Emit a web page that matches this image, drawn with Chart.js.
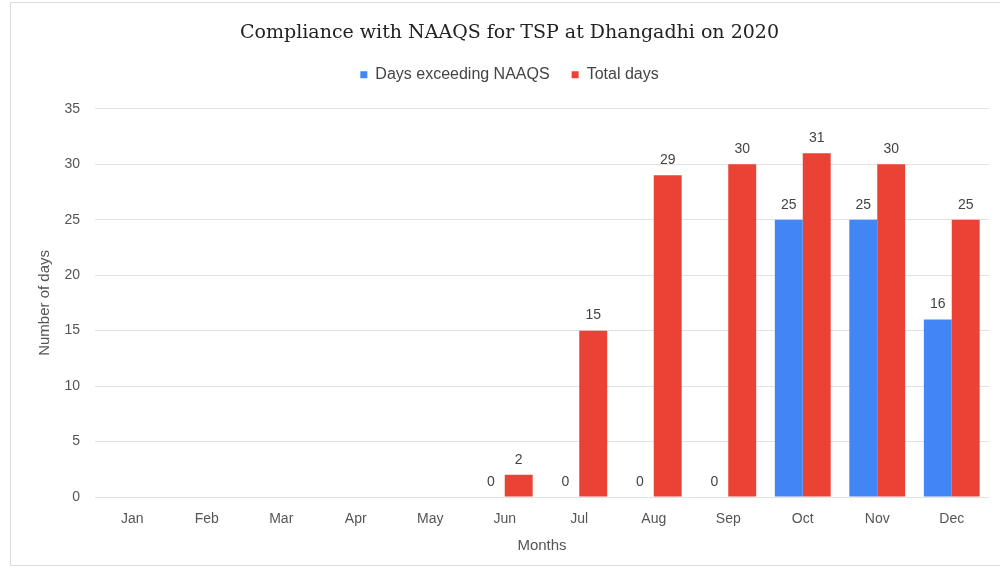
<!DOCTYPE html>
<html>
<head>
<meta charset="utf-8">
<script src="https://cdn.jsdelivr.net/npm/chart.js@4/dist/chart.umd.min.js"></script>
<style>
  body { margin: 0; background: #fff; }
  #wrap { position: relative; width: 1000px; height: 575px; }
  #frame { position: absolute; left: 10px; top: 2px; width: 990px; height: 564px; border: 1px solid #dcdcdc; border-right: none; box-sizing: border-box; pointer-events: none; }
</style>
</head>
<body>
<div id="wrap">
  <canvas id="chart" width="1000" height="575"></canvas>
  <div id="frame"></div>
</div>
<script>
const months = ['Jan', 'Feb', 'Mar', 'Apr', 'May', 'Jun', 'Jul', 'Aug', 'Sep', 'Oct', 'Nov', 'Dec'];
const daysExceeding = [null, null, null, null, null, 0, 0, 0, 0, 25, 25, 16];
const totalDays = [null, null, null, null, null, 2, 15, 29, 30, 31, 30, 25];
const yTicks = [0, 5, 10, 15, 20, 25, 30, 35];

const sans = '"Liberation Sans", Arial, sans-serif';

// draws the value above every bar (no datalabels plugin offline)
const barLabels = {
    id: 'barLabels',
    afterDatasetsDraw(chart) {
        const ctx = chart.ctx;
        ctx.save();
        ctx.font = '14px ' + sans;
        ctx.fillStyle = '#444';
        ctx.textAlign = 'center';
        ctx.textBaseline = 'bottom';
        chart.data.datasets.forEach((ds, i) => {
            chart.getDatasetMeta(i).data.forEach((bar, j) => {
                if (ds.data[j] === null) return;
                ctx.fillText(ds.data[j], bar.x, bar.y - 8);
            });
        });
        ctx.restore();
    }
};

// extra room under the legend
const legendGap = {
    id: 'legendGap',
    beforeInit(chart) {
        const fit = chart.legend.fit;
        chart.legend.fit = function () {
            fit.bind(chart.legend)();
            this.height += 16;
        };
    }
};

new Chart(document.getElementById('chart'), {
    type: 'bar',
    data: {
        labels: months,
        datasets: [
            { label: 'Days exceeding NAAQS', data: daysExceeding, backgroundColor: '#4285f4' },
            { label: 'Total days', data: totalDays, backgroundColor: '#ea4335' }
        ]
    },
    options: {
        responsive: false,
        animation: false,
        categoryPercentage: 0.75,
        barPercentage: 1,
        layout: { padding: { left: 30, right: 11, top: 0, bottom: 20 } },
        plugins: {
            title: {
                display: true,
                text: 'Compliance with NAAQS for TSP at Dhangadhi on 2020',
                color: '#222',
                font: { family: '"DejaVu Serif", serif', size: 19, weight: 'normal' },
                padding: { top: 22, bottom: 0 }
            },
            legend: {
                labels: {
                    usePointStyle: true,
                    pointStyle: 'rect',
                    boxWidth: 7,
                    boxHeight: 7,
                    color: '#444',
                    font: { family: sans, size: 16 },
                    padding: 22
                }
            },
            tooltip: { enabled: false }
        },
        scales: {
            x: {
                afterFit(scale) { scale.height = 58; },
                grid: { display: false, drawTicks: false },
                border: { display: false },
                ticks: { color: '#555', font: { family: sans, size: 14 }, padding: 14 },
                title: { display: true, text: 'Months', color: '#555', font: { family: sans, size: 15 }, padding: { top: 10, bottom: 0 } }
            },
            y: {
                min: 0,
                max: 35,
                afterFit(scale) { scale.width = 65; },
                afterBuildTicks(scale) { scale.ticks = yTicks.map(v => ({ value: v })); },
                grid: { color: '#e2e2e2', drawTicks: false },
                border: { display: false },
                ticks: { color: '#555', font: { family: sans, size: 14 }, padding: 15 },
                title: { display: true, text: 'Number of days', color: '#555', font: { family: sans, size: 15 }, padding: { top: 6, bottom: 10 } }
            }
        }
    },
    plugins: [barLabels, legendGap]
});
</script>
</body>
</html>
